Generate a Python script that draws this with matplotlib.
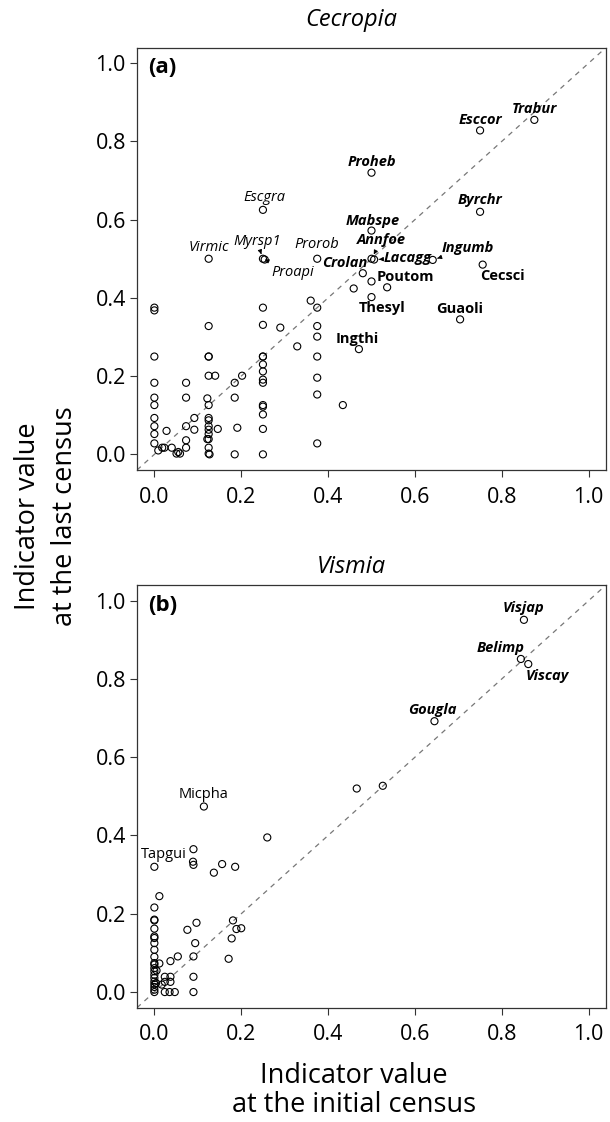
import matplotlib
matplotlib.use('Agg')
import matplotlib.pyplot as plt

plt.rcParams['font.family'] = ['Open Sans', 'DejaVu Sans']

# ---------------- data: Cecropia (panel a) ----------------
cec_named = ['Trabur', 'Esccor', 'Proheb', 'Escgra', 'Byrchr', 'Mabspe', 'Virmic',
             'Myrsp1', 'Proapi', 'Prorob', 'Annfoe', 'Lacagg', 'Ingumb', 'Cecsci',
             'Crolan', 'Poutom', 'Thesyl', 'Guaoli', 'Ingthi']
cec_named_init = [0.875, 0.750, 0.500, 0.250, 0.750, 0.500, 0.125,
                  0.250, 0.254, 0.375, 0.500, 0.506, 0.641, 0.756,
                  0.480, 0.500, 0.500, 0.704, 0.471]
cec_named_last = [0.855, 0.828, 0.720, 0.625, 0.620, 0.572, 0.500,
                  0.500, 0.498, 0.500, 0.500, 0.498, 0.497, 0.485,
                  0.463, 0.442, 0.402, 0.345, 0.269]

cec_other_init = [0.536, 0.459, 0.360, 0.375, 0.250, 0.000, 0.000,
                  0.125, 0.250, 0.290, 0.375, 0.375, 0.329,
                  0.000, 0.125, 0.125, 0.250, 0.250, 0.375,
                  0.250, 0.250, 0.250, 0.250,
                  0.125, 0.140, 0.202, 0.185, 0.375,
                  0.000, 0.073, 0.375,
                  0.000, 0.000, 0.073, 0.122, 0.125, 0.185,
                  0.250, 0.250, 0.250, 0.434,
                  0.000, 0.000, 0.000, 0.000,
                  0.092, 0.073, 0.092, 0.028,
                  0.125, 0.125, 0.125, 0.125, 0.125, 0.122, 0.125, 0.125, 0.125, 0.127,
                  0.146, 0.191, 0.250,
                  0.073, 0.073, 0.375,
                  0.009, 0.018, 0.023, 0.040,
                  0.051, 0.055, 0.059,
                  0.185, 0.250]
cec_other_last = [0.427, 0.424, 0.393, 0.375, 0.375, 0.375, 0.368,
                  0.328, 0.331, 0.324, 0.328, 0.301, 0.276,
                  0.250, 0.250, 0.250, 0.250, 0.250, 0.250,
                  0.230, 0.212, 0.191, 0.183,
                  0.201, 0.201, 0.201, 0.183, 0.196,
                  0.183, 0.183, 0.153,
                  0.145, 0.126, 0.145, 0.143, 0.126, 0.145,
                  0.126, 0.122, 0.102, 0.126,
                  0.093, 0.072, 0.052, 0.028,
                  0.093, 0.072, 0.063, 0.060,
                  0.093, 0.087, 0.072, 0.063, 0.052, 0.039, 0.039, 0.017, 0.002, 0.000,
                  0.065, 0.068, 0.065,
                  0.036, 0.017, 0.028,
                  0.010, 0.017, 0.017, 0.017,
                  0.002, 0.006, 0.002,
                  0.000, 0.000]

# ---------------- data: Vismia (panel b) ----------------
vis_named = ['Visjap', 'Belimp', 'Viscay', 'Gougla', 'Micpha', 'Tapgui']
vis_named_init = [0.851, 0.844, 0.861, 0.645, 0.114, 0.000]
vis_named_last = [0.951, 0.851, 0.838, 0.692, 0.474, 0.320]

vis_other_init = [0.466, 0.526, 0.260, 0.090, 0.089, 0.090, 0.156, 0.186, 0.137,
                  0.0115, 0.000, 0.000, 0.000, 0.000, 0.000, 0.000, 0.000, 0.000, 0.000,
                  0.000, 0.000, 0.000, 0.000, 0.000, 0.000, 0.000, 0.000, 0.000, 0.000, 0.000,
                  0.005, 0.004, 0.0115,
                  0.097, 0.076, 0.181, 0.189, 0.200, 0.094, 0.178, 0.054, 0.090, 0.037, 0.171,
                  0.024, 0.037, 0.024, 0.037, 0.017, 0.090,
                  0.024, 0.035, 0.047, 0.090]
vis_other_last = [0.520, 0.527, 0.395, 0.365, 0.333, 0.325, 0.327, 0.320, 0.305,
                  0.245, 0.216, 0.185, 0.183, 0.162, 0.142, 0.138, 0.125, 0.108, 0.090,
                  0.074, 0.070, 0.061, 0.053, 0.044, 0.036, 0.027, 0.020, 0.013, 0.006, 0.000,
                  0.055, 0.023, 0.073,
                  0.177, 0.159, 0.183, 0.161, 0.163, 0.125, 0.137, 0.091, 0.091, 0.079, 0.085,
                  0.039, 0.039, 0.026, 0.026, 0.019, 0.039,
                  0.000, 0.000, 0.000, 0.000]

tick_vals = [0.0, 0.2, 0.4, 0.6, 0.8, 1.0]
tick_labels = ['0.0', '0.2', '0.4', '0.6', '0.8', '1.0']

# ---------------- label layout (offsets in points, styles) ----------------
# name: (dx, dy, ha, style, weight, arrow)
label_layout = {
    'Trabur': (0, 7.9, 'center', 'italic', 'bold', False),
    'Esccor': (0, 7.4, 'center', 'italic', 'bold', False),
    'Proheb': (0, 7.9, 'center', 'italic', 'bold', False),
    'Escgra': (0.7, 9.1, 'center', 'italic', 'normal', False),
    'Byrchr': (0.3, 8.6, 'center', 'italic', 'bold', False),
    'Mabspe': (0.7, 7.2, 'center', 'italic', 'bold', False),
    'Virmic': (0, 7.9, 'center', 'italic', 'normal', False),
    'Myrsp1': (-4.3, 12.5, 'center', 'italic', 'normal', True),
    'Proapi': (20.4, -9.1, 'center', 'italic', 'normal', True),
    'Prorob': (0, 10.0, 'center', 'italic', 'normal', False),
    'Annfoe': (7.0, 13.2, 'center', 'italic', 'bold', True),
    'Lacagg': (6.5, 1.0, 'left', 'italic', 'bold', True),
    'Ingumb': (6.7, 8.6, 'left', 'italic', 'bold', True),
    'Cecsci': (13.9, -8.4, 'center', 'normal', 'bold', False),
    'Crolan': (3.6, 7.2, 'right', 'italic', 'bold', False),
    'Poutom': (3.6, 3.1, 'left', 'normal', 'bold', False),
    'Thesyl': (7.4, -7.9, 'center', 'normal', 'bold', False),
    'Guaoli': (-0.5, 7.7, 'center', 'normal', 'bold', False),
    'Ingthi': (-1.2, 7.4, 'center', 'normal', 'bold', False),
    'Visjap': (0, 8.2, 'center', 'italic', 'bold', False),
    'Belimp': (-14.4, 8.2, 'center', 'italic', 'bold', False),
    'Viscay': (13.9, -8.9, 'center', 'italic', 'bold', False),
    'Gougla': (-1.2, 8.2, 'center', 'italic', 'bold', False),
    'Micpha': (0, 8.6, 'center', 'normal', 'normal', False),
    'Tapgui': (6.7, 8.9, 'center', 'normal', 'normal', False),
}

W, H = 610, 1122
fig = plt.figure(figsize=(W / 100, H / 100), dpi=100)


def rect(l, t, r, b):
    return [l / W, 1 - b / H, (r - l) / W, (b - t) / H]


axa = fig.add_axes(rect(137, 47.5, 606, 470))
axb = fig.add_axes(rect(137, 585, 606, 1007.7))


def setup(ax, letter):
    ax.set_xlim(-0.04, 1.04)
    ax.set_ylim(-0.04, 1.04)
    ax.plot([0, 1], [0, 1], transform=ax.transAxes, ls=(0, (4, 4)),
            color='#777777', lw=0.9, zorder=1)
    ax.set_xticks(tick_vals)
    ax.set_xticklabels(tick_labels)
    ax.set_yticks(tick_vals)
    ax.set_yticklabels(tick_labels)
    ax.tick_params(axis='both', direction='out', length=5, width=0.8,
                   labelsize=15.5, color='#333333')
    ax.tick_params(axis='x', pad=7)
    ax.tick_params(axis='y', pad=3)
    for sp in ax.spines.values():
        sp.set_color('#333333')
        sp.set_linewidth(0.9)
    ax.text(0.024, 0.952, letter, transform=ax.transAxes, fontsize=16,
            fontweight='bold', va='center', ha='left')


def draw(ax, named, nx, ny, ox, oy):
    ax.scatter(ox + nx, oy + ny, s=26, facecolors='none', edgecolors='black',
               linewidths=0.8, zorder=3)
    for name, x, y in zip(named, nx, ny):
        dx, dy, ha, st, wt, arrow = label_layout[name]
        kw = dict(xy=(x, y), xytext=(dx, dy), textcoords='offset points',
                  ha=ha, va='center', fontsize=10.5, fontstyle=st, fontweight=wt,
                  zorder=4)
        if arrow:
            kw['arrowprops'] = dict(arrowstyle='-|>', color='black', lw=0.7,
                                    mutation_scale=6, shrinkA=1, shrinkB=3.5)
        ax.annotate(name, **kw)


setup(axa, '(a)')
setup(axb, '(b)')
draw(axa, cec_named, cec_named_init, cec_named_last, cec_other_init, cec_other_last)
draw(axb, vis_named, vis_named_init, vis_named_last, vis_other_init, vis_other_last)

fig.text(351 / W, 1 - 26 / H, 'Cecropia', ha='center', va='baseline',
         fontsize=17, fontstyle='italic')
fig.text(351 / W, 1 - 573 / H, 'Vismia', ha='center', va='baseline',
         fontsize=17, fontstyle='italic')

fig.text(354 / W, 1 - 1083 / H, 'Indicator value', ha='center', va='baseline',
         fontsize=19.5)
fig.text(354 / W, 1 - 1112 / H, 'at the initial census', ha='center',
         va='baseline', fontsize=19.5)

fig.text(35 / W, 1 - 516 / H, 'Indicator value', ha='center', va='baseline',
         rotation=90, rotation_mode='anchor', fontsize=19.5)
fig.text(72 / W, 1 - 516 / H, 'at the last census', ha='center', va='baseline',
         rotation=90, rotation_mode='anchor', fontsize=19.5)

fig.savefig('out.png', dpi=100)
